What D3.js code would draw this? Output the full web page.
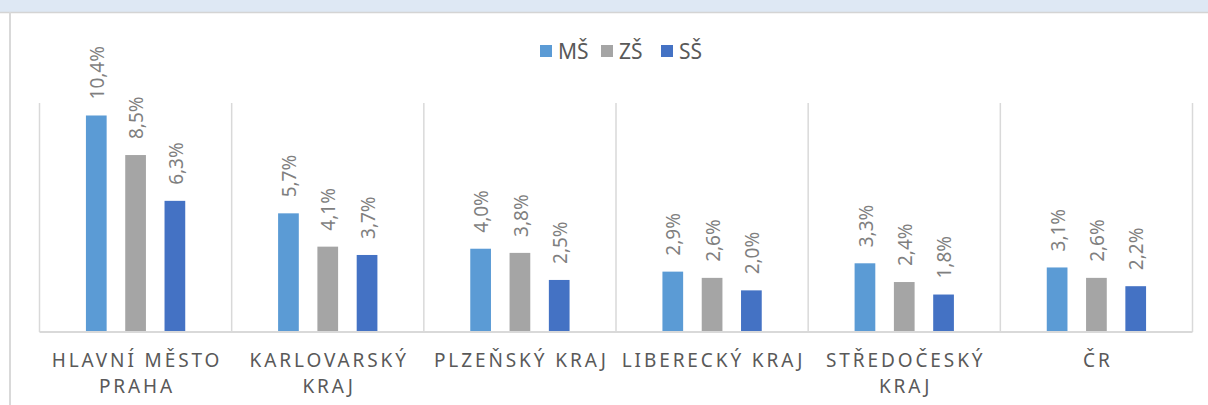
<!DOCTYPE html>
<html>
<head>
<meta charset="utf-8">
<script src="https://cdn.jsdelivr.net/npm/d3@7"></script>
<style>
  body { margin: 0; background: #fff; }
  svg { display: block; font-family: "Noto Sans", "Open Sans", sans-serif; }
</style>
</head>
<body>
<svg id="chart" width="1208" height="405"></svg>
<script>
var categories = ["HLAVNÍ MĚSTO PRAHA", "KARLOVARSKÝ KRAJ", "PLZEŇSKÝ KRAJ", "LIBERECKÝ KRAJ", "STŘEDOČESKÝ KRAJ", "ČR"];
var seriesNames = ["MŠ", "ZŠ", "SŠ"];
var ms = [10.4, 5.7, 4.0, 2.9, 3.3, 3.1];
var zs = [8.5, 4.1, 3.8, 2.6, 2.4, 2.6];
var ss = [6.3, 3.7, 2.5, 2.0, 1.8, 2.2];
var colors = ["#5b9bd5", "#a5a5a5", "#4472c4"];

var series = [ms, zs, ss];
var svg = d3.select("#chart");

// frame: light blue band on top, grey borders
svg.append("rect").attr("x", 0).attr("y", 0).attr("width", 1208).attr("height", 12).attr("fill", "#dee8f4");
svg.append("line").attr("x1", 0).attr("x2", 1208).attr("y1", 12.5).attr("y2", 12.5).attr("stroke", "#d4d4d4").attr("stroke-width", 1.5);
svg.append("line").attr("x1", 10).attr("x2", 10).attr("y1", 12).attr("y2", 405).attr("stroke", "#d9d9d9").attr("stroke-width", 2);

var groupW = 117.9;
var x = d3.scaleBand().domain(categories).range([39.5, 1192.5]).padding(0);
var xs = d3.scaleBand().domain(seriesNames).range([0, groupW]).paddingInner(0.473).paddingOuter(0.2365);
var y = d3.scaleLinear().domain([0, 11]).range([332, 103]);

// category dividers
var edges = categories.map(function (c) { return x(c); }).concat([x.range()[1]]);
svg.selectAll(".div").data(edges).enter().append("line")
  .attr("x1", function (d) { return d; }).attr("x2", function (d) { return d; })
  .attr("y1", y(11)).attr("y2", y(0))
  .attr("stroke", "#d9d9d9").attr("stroke-width", 1.5);

var groups = svg.selectAll(".grp").data(categories).enter().append("g")
  .attr("transform", function (c) { return "translate(" + (x(c) + x.bandwidth() / 2 - groupW / 2) + ",0)"; });

seriesNames.forEach(function (s, si) {
  groups.append("rect")
    .attr("x", xs(s))
    .attr("y", function (c, i) { return y(series[si][i]); })
    .attr("width", xs.bandwidth())
    .attr("height", function (c, i) { return y(0) - y(series[si][i]); })
    .attr("fill", colors[si]);

  groups.append("text")
    .attr("transform", function (c, i) {
      return "translate(" + (xs(s) + xs.bandwidth() / 2 + 1) + "," + (y(series[si][i]) - 16) + ") rotate(-90)";
    })
    .attr("dy", "0.35em")
    .attr("font-size", 19)
    .attr("fill", "#7f7f7f")
    .text(function (c, i) { return series[si][i].toFixed(1).replace(".", ",") + "%"; });
});

// baseline
svg.append("line").attr("x1", x.range()[0]).attr("x2", x.range()[1])
  .attr("y1", y(0)).attr("y2", y(0)).attr("stroke", "#d9d9d9").attr("stroke-width", 2);

// category labels with wrapping
svg.selectAll(".cat").data(categories).enter().append("text")
  .attr("text-anchor", "middle")
  .attr("font-size", 19)
  .attr("letter-spacing", 2.9)
  .attr("fill", "#595959")
  .each(function (c) {
    var t = d3.select(this);
    var words = c.split(" ");
    var lines = [];
    var cur = "";
    var probe = t.append("tspan");
    words.forEach(function (w) {
      var test = cur ? cur + " " + w : w;
      probe.text(test);
      if (cur && probe.node().getComputedTextLength() > x.bandwidth() - 2) {
        lines.push(cur);
        cur = w;
      } else {
        cur = test;
      }
    });
    lines.push(cur);
    probe.remove();
    lines.forEach(function (l, li) {
      t.append("tspan").attr("x", x(c) + x.bandwidth() / 2 + 1.45).attr("y", 367 + li * 26).text(l);
    });
  });

// legend
var legX = [540, 601, 661];
var leg = svg.selectAll(".leg").data(seriesNames).enter().append("g")
  .attr("transform", function (d, i) { return "translate(" + legX[i] + ",45)"; });
leg.append("rect").attr("width", 12).attr("height", 12).attr("fill", function (d, i) { return colors[i]; });
leg.append("text").attr("x", 18).attr("y", 6).attr("dy", "0.36em")
  .attr("font-size", 21).attr("fill", "#595959").text(function (d) { return d; });
</script>
</body>
</html>
